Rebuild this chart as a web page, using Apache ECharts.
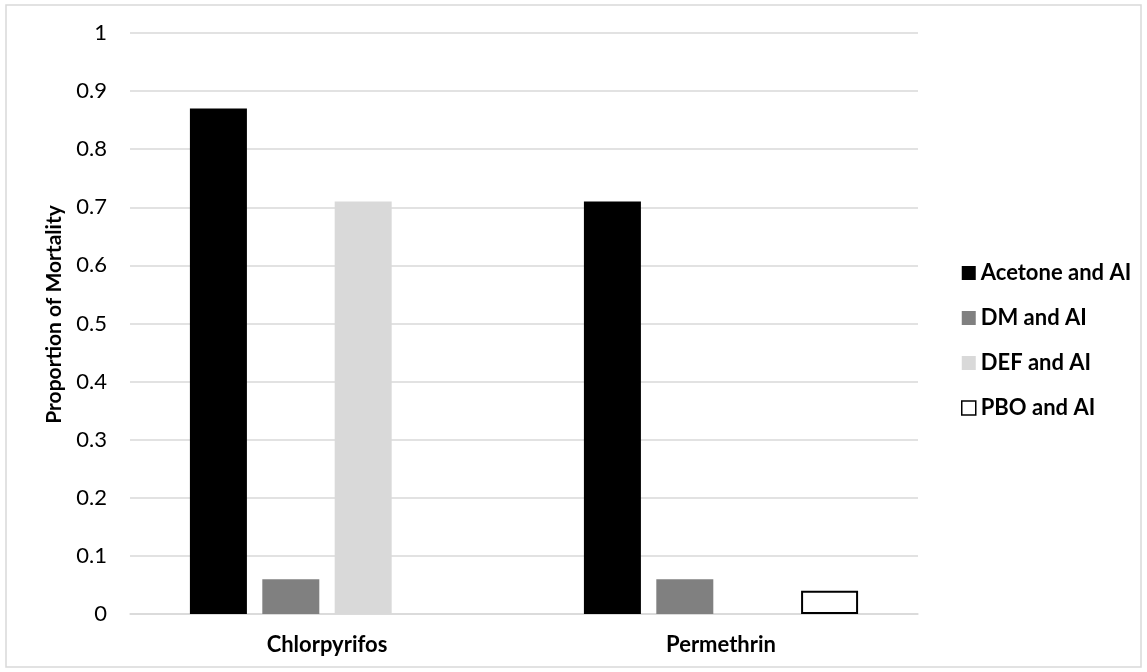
<!DOCTYPE html>
<html>
<head>
<meta charset="utf-8">
<script src="https://cdn.jsdelivr.net/npm/echarts@6/dist/echarts.min.js"></script>
<style>
  html, body { margin: 0; padding: 0; background: #fff; }
  #main { width: 1147px; height: 672px; }
</style>
</head>
<body>
<div id="main"></div>
<script>
// data
var categories = ['Chlorpyrifos', 'Permethrin'];
var seriesNames = ['Acetone and AI', 'DM and AI', 'DEF and AI', 'PBO and AI'];
var acetone = [0.87, 0.71];
var dm = [0.06, 0.06];
var def = [0.71, 0];
var pbo = [0, 0.04];

var font = 'Lato, "Open Sans", sans-serif';
var chart = echarts.init(document.getElementById('main'));

function bar(name, data, fill, border) {
  return {
    name: name,
    type: 'bar',
    // zero bars draw nothing, not even an outline
    data: data.map(function (v) {
      return { value: v, itemStyle: { borderWidth: (border && v > 0) ? 2 : 0 } };
    }),
    barWidth: 57,
    barGap: '27%',
    itemStyle: {
      color: fill,
      borderColor: border || fill
    }
  };
}

var option = {
  animation: false,
  backgroundColor: '#fff',
  graphic: [{
    type: 'rect',
    shape: { x: 6, y: 5, width: 1135, height: 662 },
    style: { fill: 'none', stroke: '#d9d9d9', lineWidth: 1.5 },
    silent: true
  }],
  grid: { left: 130, right: 229, top: 33, bottom: 58 },
  legend: {
    orient: 'vertical',
    left: 961,
    top: 262,
    padding: 0,
    itemWidth: 14,
    itemHeight: 14,
    itemGap: 23,
    icon: 'rect',
    textStyle: { fontFamily: font, fontWeight: 'bold', fontSize: 22, lineHeight: 22, color: '#000' },
    data: [
      seriesNames[0],
      seriesNames[1],
      seriesNames[2],
      { name: seriesNames[3], itemStyle: { color: '#fff', borderColor: '#000', borderWidth: 1.5 } }
    ]
  },
  xAxis: {
    type: 'category',
    data: categories,
    axisTick: { show: false },
    axisLine: { lineStyle: { color: '#d9d9d9', width: 1.5 } },
    axisLabel: { fontFamily: font, fontWeight: 'bold', fontSize: 22, color: '#000', margin: 20 }
  },
  yAxis: {
    type: 'value',
    min: 0,
    max: 1,
    interval: 0.1,
    name: 'Proportion of Mortality',
    nameLocation: 'middle',
    nameGap: 65,
    nameTextStyle: { fontFamily: font, fontWeight: 'bold', fontSize: 21, color: '#000', padding: [0, 0, 0, 18] },
    axisLine: { show: false },
    axisTick: { show: false },
    splitLine: { lineStyle: { color: '#d9d9d9', width: 1.5 } },
    axisLabel: {
      fontFamily: font, fontSize: 22, color: '#000', margin: 23,
      formatter: function (v) { return String(Math.round(v * 10) / 10); }
    }
  },
  series: [
    bar(seriesNames[0], acetone, '#000000'),
    bar(seriesNames[1], dm, '#808080'),
    bar(seriesNames[2], def, '#d9d9d9'),
    bar(seriesNames[3], pbo, '#ffffff', '#000000')
  ]
};
chart.setOption(option);
</script>
</body>
</html>
